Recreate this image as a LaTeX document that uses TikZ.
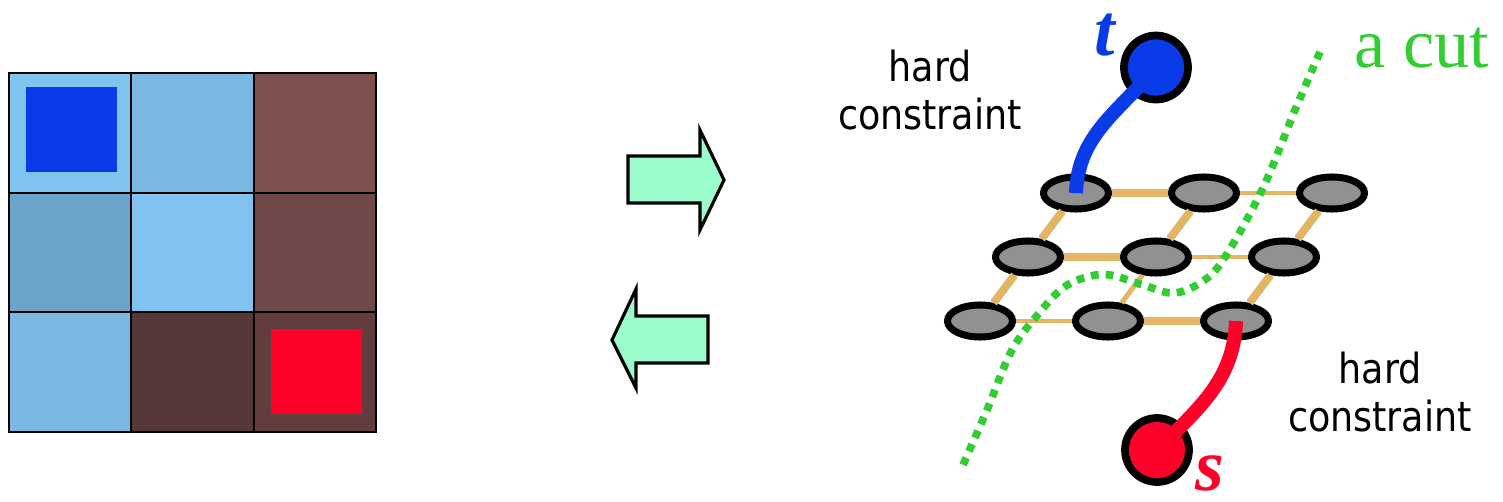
\documentclass[tikz,border=0pt]{standalone}
\usepackage{fontspec}
\newfontfamily\notefont[FakeStretch=0.88]{DejaVu Sans}
\newfontfamily\labelfont{Liberation Serif}
\usepackage{xcolor}
\usetikzlibrary{shapes,positioning,calc}

\definecolor{skyA}{HTML}{7FC3EE}
\definecolor{skyB}{HTML}{7AB8E3}
\definecolor{skyC}{HTML}{6BA3C9}
\definecolor{brownA}{HTML}{7F5050}
\definecolor{brownB}{HTML}{704848}
\definecolor{brownC}{HTML}{573838}
\definecolor{brownD}{HTML}{633C3E}
\definecolor{seedblue}{HTML}{0A3BE8}
\definecolor{seedred}{HTML}{FF0028}
\definecolor{mint}{HTML}{9BFDCB}
\definecolor{linktan}{HTML}{E3B565}
\definecolor{cutgreen}{HTML}{33CC33}

\begin{document}
\begin{tikzpicture}

        \tikzstyle{cell}=[draw=black, line width=0.6pt, inner sep=0pt, minimum width=1.223cm, minimum height=1.197cm]
        \tikzstyle{seed}=[inner sep=0pt, minimum width=0.91cm, minimum height=0.85cm]
        \tikzstyle{bigarrow}=[draw=black, line width=0.9pt, fill=mint, line join=miter]
        \tikzstyle{pixel}=[ellipse, draw=black, line width=2pt, fill=black!43, inner sep=0pt, minimum width=0.65cm, minimum height=0.32cm]
        \tikzstyle{terminal}=[ellipse, draw=black, line width=2.2pt, inner sep=0pt, minimum width=0.64cm, minimum height=0.64cm]
        \tikzstyle{nlink}=[draw=linktan, line width=2.3pt]
        \tikzstyle{weak}=[draw=linktan, line width=1.4pt]
        \tikzstyle{tlink}=[line width=4pt, line cap=butt]
        \tikzstyle{note}=[font=\notefont\fontsize{11.8}{13.7}\selectfont, align=center]
        \tikzstyle{term label}=[inner sep=0pt, font=\labelfont\bfseries\itshape\fontsize{21}{21}\selectfont]

        \useasboundingbox (0,0) rectangle (15.03,5.02);

        % image: 3x3 pixels with two seeds
        \foreach \row/\col/\clr in {1/1/skyA, 1/2/skyB, 1/3/brownA,
                                    2/1/skyC, 2/2/skyA, 2/3/brownB,
                                    3/1/skyB, 3/2/brownC, 3/3/brownD}
          \node[cell, fill=\clr] (cell-\row-\col) at ({0.09+1.2233*(\col-0.5)},{4.29-1.1967*(\row-0.5)}) {};
        \node[seed, fill=seedblue] (objseed) at (0.715,3.725) {};
        \node[seed, fill=seedred] (bkgseed) at (3.165,1.30) {};

        % arrows between image and graph
        \draw[bigarrow] (6.28,3.46) -- (7.00,3.46) -- (7.00,3.72) -- (7.24,3.22)
                        -- (7.00,2.72) -- (7.00,2.99) -- (6.28,2.99) -- cycle;
        \draw[bigarrow] (7.08,1.86) -- (6.36,1.86) -- (6.36,2.13) -- (6.12,1.62)
                        -- (6.36,1.14) -- (6.36,1.39) -- (7.08,1.39) -- cycle;

        % graph
        \foreach \r in {1,2,3}
          \foreach \c in {1,2,3}
            \node[pixel] (p\r\c) at ({10.76-0.48*(\r-1)+1.28*(\c-1)},{3.09-0.64*(\r-1)}) {};

        \draw[nlink] (p11) -- (p12);
        \draw[weak]  (p12) -- (p13);
        \draw[nlink] (p21) -- (p22);
        \draw[weak]  (p22) -- (p23);
        \draw[weak]  (p31) -- (p32);
        \draw[nlink] (p32) -- (p33);
        \draw[nlink] (p11) -- (p21);
        \draw[nlink] (p12) -- (p22);
        \draw[nlink] (p13) -- (p23);
        \draw[nlink] (p21) -- (p31);
        \draw[weak]  (p22) -- (p32);
        \draw[nlink] (p23) -- (p33);

        \node[terminal, fill=seedblue] (t) at (11.56,4.345) {};
        \node[terminal, fill=seedred] (s) at (11.57,0.52) {};
        \node[term label, text=seedblue] (tname) at (11.05,4.67) {t};
        \node[term label, text=seedred] (sname) at (12.10,0.29) {s};

        \draw[tlink, seedblue] (t.center) to[out=-130, in=88] (p11.center);
        \draw[tlink, seedred] (p33.center) to[out=-92, in=45] (s.center);

        \node[note] (hardt) at (9.30,4.12) {hard\\constraint};
        \node[note] (hards) at (13.80,1.10) {hard\\constraint};

        % the cut
        \draw[cutgreen, line width=2.2pt, dash pattern=on 2.2pt off 2pt]
          plot[smooth, tension=0.6] coordinates {(13.20,4.50) (12.95,3.92) (12.62,3.12) (12.23,2.42)
            (12.00,2.19) (11.73,2.09) (11.43,2.17) (11.10,2.27) (10.87,2.25) (10.63,2.14)
            (10.40,1.90) (10.12,1.52) (9.87,0.92) (9.63,0.37)};
        \node[font=\labelfont\fontsize{20}{20}\selectfont, text=cutgreen] (cutname) at (14.22,4.54) {a cut};

      \end{tikzpicture}
\end{document}
